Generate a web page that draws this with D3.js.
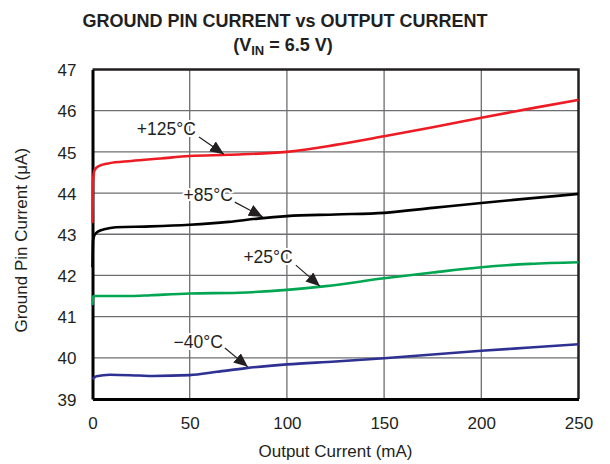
<!DOCTYPE html>
<html>
<head>
<meta charset="utf-8">
<script src="https://cdn.jsdelivr.net/npm/d3@7"></script>
<style>
  body { margin: 0; background: #fff; }
  svg text { font-family: "Liberation Sans", Arial, Helvetica, sans-serif; fill: #231f20; }
</style>
</head>
<body>
<div id="chart"></div>
<script>
// values (output current mA, ground pin current µA)
const xTicks = [0, 50, 100, 150, 200, 250];
const yTicks = [39, 40, 41, 42, 43, 44, 45, 46, 47];

const t125 = [[0, 43.27], [0.3, 44.3], [1, 44.55], [3, 44.65], [8, 44.72], [20, 44.78], [35, 44.84],
  [50, 44.9], [70, 44.93], [100, 45.0], [125, 45.17], [150, 45.38], [175, 45.6], [200, 45.83], [225, 46.05], [250, 46.26]];
const t85 = [[0, 42.2], [0.3, 42.85], [1, 42.98], [3, 43.07], [6, 43.12], [12, 43.17], [30, 43.19],
  [50, 43.23], [70, 43.3], [85, 43.38], [100, 43.44], [125, 43.48], [150, 43.52], [175, 43.64], [200, 43.76], [225, 43.87], [250, 43.98]];
const t25 = [[0, 41.28], [0.3, 41.48], [1, 41.5], [20, 41.5], [30, 41.52], [50, 41.56], [75, 41.58],
  [100, 41.65], [120, 41.74], [150, 41.93], [175, 42.07], [200, 42.2], [225, 42.28], [250, 42.32]];
const tm40 = [[0, 39.48], [2, 39.55], [9, 39.59], [24, 39.57], [31, 39.56], [50, 39.58], [64, 39.66],
  [79, 39.75], [100, 39.84], [125, 39.91], [150, 39.99], [175, 40.08], [200, 40.17], [225, 40.25], [250, 40.33]];

const seriesNames = ["+125°C", "+85°C", "+25°C", "\u221240°C"];
const seriesColors = ["#ed1c24", "#000000", "#00a651", "#2e3192"];
const seriesData = [t125, t85, t25, tm40];

// label: text end point, arrow start, arrow tip (data units)
const labelText = [[53.2, 45.41], [72.2, 43.81], [103, 42.3], [67.1, 40.23]];
const arrowFrom = [[54.8, 45.36], [73.2, 43.78], [104.6, 42.25], [68.1, 40.24]];
const arrowTo = [[67.6, 44.94], [87.6, 43.42], [117, 41.74], [79.9, 39.78]];

const width = 610, height = 464;
const margin = { top: 69.5, right: 31.5, bottom: 65, left: 92.5 };

const svg = d3.select("#chart").append("svg")
  .attr("width", width)
  .attr("height", height);

const x = d3.scaleLinear().domain([0, 250]).range([margin.left, width - margin.right]);
const y = d3.scaleLinear().domain([39, 47]).range([height - margin.bottom, margin.top]);

// title
svg.append("text")
  .attr("x", 285)
  .attr("y", 27)
  .attr("text-anchor", "middle")
  .style("font-size", "18px")
  .style("font-weight", "bold")
  .text("GROUND PIN CURRENT vs OUTPUT CURRENT");

const sub = svg.append("text")
  .attr("x", 283)
  .attr("y", 51)
  .attr("text-anchor", "middle")
  .style("font-size", "18px")
  .style("font-weight", "bold");
sub.append("tspan").text("(V");
sub.append("tspan").attr("dy", 4).style("font-size", "13px").text("IN");
sub.append("tspan").attr("dy", -4).text(" = 6.5 V)");

// grid
svg.append("g")
  .selectAll("line")
  .data(xTicks.slice(1, -1))
  .join("line")
  .attr("x1", d => x(d)).attr("x2", d => x(d))
  .attr("y1", y(39)).attr("y2", y(47))
  .attr("stroke", "#6d6e71").attr("stroke-width", 1.3);

svg.append("g")
  .selectAll("line")
  .data(yTicks.slice(1, -1))
  .join("line")
  .attr("x1", x(0)).attr("x2", x(250))
  .attr("y1", d => y(d)).attr("y2", d => y(d))
  .attr("stroke", "#6d6e71").attr("stroke-width", 1.3);

// frame top/right
svg.append("path")
  .attr("d", `M${x(0)},${y(47)}H${x(250)}V${y(39)}`)
  .attr("fill", "none")
  .attr("stroke", "#231f20")
  .attr("stroke-width", 2.5);

// axes
const xAxis = svg.append("g")
  .attr("transform", `translate(0,${y(39)})`)
  .call(d3.axisBottom(x).tickValues(xTicks).tickSize(0).tickPadding(18));
const yAxis = svg.append("g")
  .attr("transform", `translate(${x(0)},0)`)
  .call(d3.axisLeft(y).tickValues(yTicks).tickSize(0).tickPadding(16));

[xAxis, yAxis].forEach(g => {
  g.select(".domain").attr("stroke", "#000").attr("stroke-width", 3);
  g.selectAll("text").style("font-size", "17px").attr("fill", "#231f20");
});
yAxis.selectAll("text").attr("dy", "0.36em");

// axis titles
svg.append("text")
  .attr("x", x(125))
  .attr("y", 457)
  .attr("text-anchor", "middle")
  .style("font-size", "17px")
  .text("Output Current (mA)");

svg.append("text")
  .attr("transform", `translate(27,${(y(39) + y(47)) / 2 + 6}) rotate(-90)`)
  .attr("text-anchor", "middle")
  .style("font-size", "17px")
  .text("Ground Pin Current (\u03bcA)");

// curves
const line = d3.line()
  .x(d => x(d[0]))
  .y(d => y(d[1]))
  .curve(d3.curveMonotoneX);

svg.append("g")
  .selectAll("path")
  .data(seriesData)
  .join("path")
  .attr("d", line)
  .attr("fill", "none")
  .attr("stroke", (d, i) => seriesColors[i])
  .attr("stroke-width", 2.6);

// annotations
svg.append("defs").append("marker")
  .attr("id", "arrow")
  .attr("markerUnits", "userSpaceOnUse")
  .attr("viewBox", "0 0 14 12")
  .attr("refX", 14).attr("refY", 6)
  .attr("markerWidth", 14).attr("markerHeight", 12)
  .attr("orient", "auto")
  .append("path")
  .attr("d", "M0,0L14,6L0,12Z")
  .attr("fill", "#231f20");

svg.append("g")
  .selectAll("line")
  .data(seriesNames)
  .join("line")
  .attr("x1", (d, i) => x(arrowFrom[i][0]))
  .attr("y1", (d, i) => y(arrowFrom[i][1]))
  .attr("x2", (d, i) => x(arrowTo[i][0]))
  .attr("y2", (d, i) => y(arrowTo[i][1]))
  .attr("stroke", "#231f20")
  .attr("stroke-width", 1.2)
  .attr("marker-end", "url(#arrow)");

svg.append("g")
  .selectAll("text")
  .data(seriesNames)
  .join("text")
  .attr("x", (d, i) => x(labelText[i][0]))
  .attr("y", (d, i) => y(labelText[i][1]))
  .attr("text-anchor", "end")
  .style("font-size", "17.5px")
  .style("paint-order", "stroke")
  .attr("stroke", "#fff")
  .attr("stroke-width", 4)
  .attr("stroke-linejoin", "round")
  .text(d => d);
</script>
</body>
</html>
